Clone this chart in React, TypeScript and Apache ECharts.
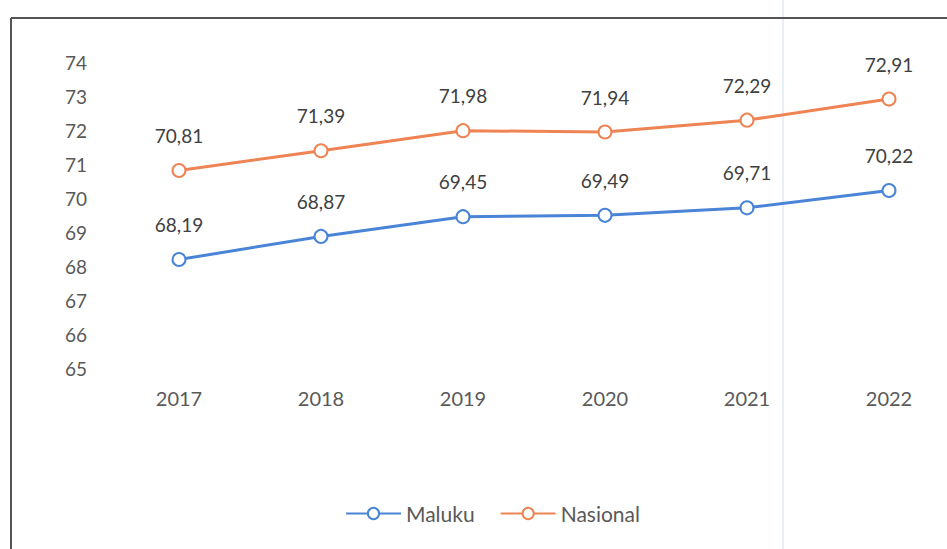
import React, { useEffect, useRef } from "react";
import * as echarts from "echarts";

const years = ["2017", "2018", "2019", "2020", "2021", "2022"];
const maluku = [68.19, 68.87, 69.45, 69.49, 69.71, 70.22];
const nasional = [70.81, 71.39, 71.98, 71.94, 72.29, 72.91];
const seriesNames = ["Maluku", "Nasional"];
const colors = ["#4A84D6", "#EE8354"];

const FONT = "Lato, 'Open Sans', sans-serif";

export default function App() {
  const ref = useRef<HTMLDivElement>(null);
  useEffect(() => {
    if (!ref.current) return;
    const chart = echarts.init(ref.current, null, { renderer: "svg" });
    const mk = (name: string, data: number[], color: string) => ({
      name,
      type: "line",
      data,
      symbol: "emptyCircle",
      symbolSize: 13,
      color,
      lineStyle: { width: 3, color },
      itemStyle: { color, borderWidth: 2.2, borderColor: color },
      label: {
        show: true,
        position: "top",
        distance: 18,
        color: "#404040",
        fontSize: 19,
        fontFamily: FONT,
        formatter: (p: any) => p.value.toFixed(2).replace(".", ","),
      },
    });
    chart.setOption({
      animation: false,
      backgroundColor: "#ffffff",
      textStyle: { fontFamily: FONT },
      grid: { left: 179, top: 62, right: 58, height: 306 },
      xAxis: {
        type: "category",
        data: years,
        boundaryGap: false,
        axisLine: { show: false },
        axisTick: { show: false },
        axisLabel: { color: "#595959", fontSize: 20, fontFamily: FONT, margin: 20 },
      },
      yAxis: {
        type: "value",
        min: 65,
        max: 74,
        interval: 1,
        splitLine: { show: false },
        axisLine: { show: false },
        axisTick: { show: false },
        axisLabel: { color: "#595959", fontSize: 19, fontFamily: FONT, margin: 92 },
      },
      legend: {
        data: seriesNames,
        bottom: 20,
        left: 340,
        itemWidth: 55,
        itemHeight: 14,
        itemGap: 25,
        textStyle: { color: "#595959", fontSize: 21, fontFamily: FONT },
      },
      graphic: [
        {
          type: "line",
          shape: { x1: 783, y1: 0, x2: 783, y2: 549 },
          style: { stroke: "#e2e8f4", lineWidth: 1.5 },
          silent: true,
        },
        {
          type: "line",
          shape: { x1: 11, y1: 18, x2: 947, y2: 18 },
          style: { stroke: "#555555", lineWidth: 2 },
        },
        {
          type: "line",
          shape: { x1: 11, y1: 18, x2: 11, y2: 549 },
          style: { stroke: "#555555", lineWidth: 2 },
        },
      ],
      series: [
        mk(seriesNames[0], maluku, colors[0]),
        mk(seriesNames[1], nasional, colors[1]),
      ],
    });
    return () => chart.dispose();
  }, []);
  return (
    <div
      ref={ref}
      style={{ position: "fixed", left: 0, top: 0, width: 947, height: 549 }}
    />
  );
}
